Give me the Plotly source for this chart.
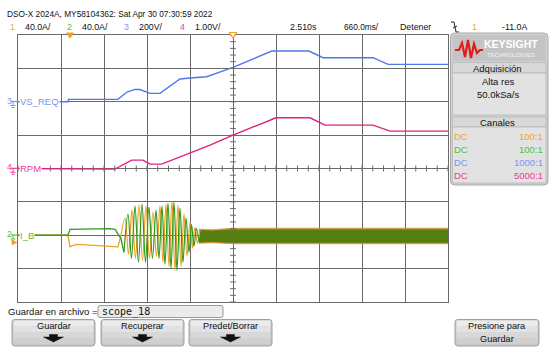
import plotly.graph_objects as go

# ---------------- data ----------------
# time axis: seconds relative to trigger, 660 ms/div, delay 2.510 s
T_DELAY = 2.510
T_DIV = 0.66

CH_SCALE = {1: 40.0, 2: 40.0, 3: 200.0, 4: 1.0}     # units / div
CH_OFFSET = {1: -2.0, 2: -2.0, 3: 2.0, 4: 0.0}      # ground position in div

# channel 3 (VS_REQ, volts)
ch3_t = [-0.79, -0.023, -0.015, 0.744, 0.883, 1.005, 1.082, 1.236, 1.389, 1.543,
         1.696, 1.850, 2.106, 2.510, 3.104, 3.676, 3.891, 4.659, 4.889, 5.81]
ch3_v = [0, 0, 14, 14, 58, 74, 73, 50, 50, 94,
         136, 142, 150, 206, 304, 304, 264, 264, 224, 224]

# channel 4 (RPM, volts)
ch4_t = [-0.79, 0.034, 0.038, 0.698, 0.955, 1.128, 1.236, 1.415, 2.157, 2.510,
         3.170, 3.692, 3.922, 4.659, 4.920, 5.81]
ch4_v = [0.0, 0.0, -0.02, -0.02, 0.25, 0.25, 0.13, 0.13, 0.70, 1.00,
         1.52, 1.52, 1.30, 1.30, 1.12, 1.12]

# channel 1 (orange, amps) before oscillation
ch1_pre_t = [-0.79, -0.023, 0.008, 0.054, 0.13, 0.744, 0.791]
ch1_pre_a = [0, 0, -14, -12, -11, -14, 0]
# channel 1 oscillation extremes
ch1_osc_t = [0.791, 0.852, 0.906, 0.959, 1.013, 1.067, 1.121, 1.174, 1.228, 1.282,
             1.336, 1.389, 1.435, 1.481, 1.527, 1.573, 1.619, 1.666, 1.712, 1.758,
             1.804, 1.850, 1.888, 1.926, 1.965, 2.003]
ch1_osc_a = [0, 20.4, -22.8, 30.0, -27.6, 36.0, -30.0, 34.8, -27.6, 27.6,
             -25.2, 34.8, -32.4, 37.2, -37.2, 40.8, -42.0, 36.0, -37.2, 25.2,
             -25.2, 15.6, -15.6, 9.6, -9.6, 6.0]

# channel 2 (green, amps) before oscillation
ch2_pre_t = [-0.79, -0.023, 0.008, 0.62, 0.70, 0.79, 0.837]
ch2_pre_a = [0, 0, 7, 8, 7, -4, -20.4]
ch2_osc_t = [0.837, 0.898, 0.952, 1.005, 1.059, 1.113, 1.167, 1.220, 1.274, 1.328,
             1.374, 1.420, 1.466, 1.512, 1.558, 1.604, 1.650, 1.696, 1.742, 1.788,
             1.834, 1.873, 1.911, 1.949, 1.988]
ch2_osc_a = [-20.4, 25.2, -27.6, 34.8, -32.4, 37.2, -32.4, 33.6, -27.6, 30.0,
             -27.6, 34.8, -34.8, 38.4, -39.6, 39.6, -42.0, 32.4, -32.4, 20.4,
             -20.4, 13.2, -13.2, 8.4, -8.4]

# dense high-frequency region: envelopes (amps)
band_t = [1.99, 2.20, 2.51, 3.00, 3.50, 4.00, 4.50, 5.00, 5.50, 5.81]
ch1_band_hi = [7.2, 6.6, 8.4, 8.4, 8.4, 8.4, 8.4, 8.4, 8.4, 8.4]
ch1_band_lo = [-9.6, -9.0, -10.2, -10.2, -10.2, -10.2, -10.2, -10.2, -10.2, -10.2]
ch2_band_hi = [5.4, 4.8, 6.0, 6.0, 6.0, 6.0, 6.0, 6.0, 6.0, 6.0]
ch2_band_lo = [-7.8, -7.2, -8.4, -8.4, -8.4, -8.4, -8.4, -8.4, -8.4, -8.4]

# header texts
header_title = "DSO-X 2024A, MY58104362: Sat Apr 30 07:30:59 2022"
ch_labels = ["1", "2", "3", "4"]
ch_scales_txt = ["40.0A/", "40.0A/", "200V/", "1.00V/"]
time_txt = ["2.510s", "660.0ms/", "Detener"]
trig_txt = ["1", "-11.0A"]
probe_rows = [("DC", "100:1"), ("DC", "100:1"), ("DC", "1000:1"), ("DC", "5000:1")]

# ---------------- style ----------------
W, H = 550, 354
PL, PR, PT, PB = 18, 448, 35, 302
C1, C2, C3, C4 = "#f0a028", "#2f9a1c", "#4f78ea", "#e2207c"
T1, T2, T3, T4 = "#f5a623", "#55c036", "#7a96f0", "#ee3c98"
GRID = "#6a6a6a"
FONT = "Liberation Sans, Arial, sans-serif"


def X(px):
    return px / W


def Y(py):
    return 1 - py / H


def div(vals, ch):
    return [v / CH_SCALE[ch] + CH_OFFSET[ch] for v in vals]


fig = go.Figure()

# channel 3 & 4
fig.add_trace(go.Scatter(x=ch3_t, y=div(ch3_v, 3), mode="lines",
                         line=dict(color=C3, width=1.4), hoverinfo="skip"))
fig.add_trace(go.Scatter(x=ch4_t, y=div(ch4_v, 4), mode="lines",
                         line=dict(color=C4, width=1.4), hoverinfo="skip"))

# dense bands
fig.add_trace(go.Scatter(x=band_t + band_t[::-1],
                         y=div(ch1_band_hi + ch1_band_lo[::-1], 1),
                         mode="lines", fill="toself", fillcolor="#a88420",
                         line=dict(color="#d89a30", width=0.8), hoverinfo="skip"))
fig.add_trace(go.Scatter(x=band_t + band_t[::-1],
                         y=div(ch2_band_hi + ch2_band_lo[::-1], 2),
                         mode="lines", fill="toself", fillcolor="#527e12",
                         line=dict(color="#4a8010", width=0.6), hoverinfo="skip"))

# channel 1 (orange)
fig.add_trace(go.Scatter(x=ch1_pre_t, y=div(ch1_pre_a, 1), mode="lines",
                         line=dict(color=C1, width=1.3), hoverinfo="skip"))
fig.add_trace(go.Scatter(x=ch1_osc_t, y=div(ch1_osc_a, 1), mode="lines",
                         line=dict(color=C1, width=1.2, shape="spline", smoothing=1.0),
                         hoverinfo="skip"))
# channel 2 (green)
fig.add_trace(go.Scatter(x=ch2_pre_t, y=div(ch2_pre_a, 2), mode="lines",
                         line=dict(color=C2, width=1.3), hoverinfo="skip"))
fig.add_trace(go.Scatter(x=ch2_osc_t, y=div(ch2_osc_a, 2), mode="lines",
                         line=dict(color=C2, width=1.2, shape="spline", smoothing=1.0),
                         hoverinfo="skip"))

shapes = []
ann = []

# minor ticks on the centre axes
t_center = T_DELAY
for k in range(-20, 21):
    xt = t_center + k * T_DIV / 4
    shapes.append(dict(type="line", xref="x", yref="y", x0=xt, x1=xt, y0=-0.09, y1=0.09,
                       line=dict(color=GRID, width=1)))
for k in range(-20, 21):
    yt = k * 0.2
    shapes.append(dict(type="line", xref="x", yref="y", x0=t_center - 0.045, x1=t_center + 0.045,
                       y0=yt, y1=yt, line=dict(color=GRID, width=1)))


def rrect(x0, y0, x1, y1, r):
    return (f"M{X(x0 + r)},{Y(y0)} L{X(x1 - r)},{Y(y0)} Q{X(x1)},{Y(y0)} {X(x1)},{Y(y0 + r)} "
            f"L{X(x1)},{Y(y1 - r)} Q{X(x1)},{Y(y1)} {X(x1 - r)},{Y(y1)} "
            f"L{X(x0 + r)},{Y(y1)} Q{X(x0)},{Y(y1)} {X(x0)},{Y(y1 - r)} "
            f"L{X(x0)},{Y(y0 + r)} Q{X(x0)},{Y(y0)} {X(x0 + r)},{Y(y0)} Z")


def prect(x0, y0, x1, y1, fill, line=None, lw=1):
    shapes.append(dict(type="rect", xref="paper", yref="paper", x0=X(x0), x1=X(x1),
                       y0=Y(y1), y1=Y(y0), fillcolor=fill,
                       line=dict(color=line or fill, width=lw if line else 0)))


def ppath(d, fill=None, line=None, lw=1):
    s = dict(type="path", xref="paper", yref="paper", path=d,
             line=dict(color=line or "rgba(0,0,0,0)", width=lw if line else 0))
    if fill:
        s["fillcolor"] = fill
    shapes.append(s)


def pline(x0, y0, x1, y1, color, lw=1):
    shapes.append(dict(type="line", xref="paper", yref="paper", x0=X(x0), x1=X(x1),
                       y0=Y(y0), y1=Y(y1), line=dict(color=color, width=lw)))


def txt(x, y, s, color="#111", size=10, anchor="left", bg=None, family=FONT):
    d = dict(x=X(x), y=Y(y), xref="paper", yref="paper", text=s, showarrow=False,
             xanchor=anchor, yanchor="middle", borderpad=0,
             font=dict(color=color, size=size, family=family))
    if bg:
        d["bgcolor"] = bg
    ann.append(d)


# ---- header ----
txt(6, 14, header_title, size=8.3)
hx = [(9, 24), (66, 81), (123, 138), (179, 194)]
hc = [T1, T2, T3, T4]
for (xa, xb), lab, sc, c in zip(hx, ch_labels, ch_scales_txt, hc):
    txt(xa, 27, lab, color=c, size=8.8)
    txt(xb, 27, sc, size=8.8)
txt(289, 27, time_txt[0], size=8.8)
txt(343, 27, time_txt[1], size=8.3)
txt(399, 27, time_txt[2], size=8.8)
# trigger edge icon
ppath(f"M{X(451)},{Y(22)} L{X(454)},{Y(22)} L{X(456)},{Y(32)} L{X(459)},{Y(32)}", line="#222", lw=1)
pline(453, 28, 457, 26, "#222", 1)
txt(471, 27, trig_txt[0], color=T1, size=8.8)
txt(501, 27, trig_txt[1], size=8.8)

# trigger / reference markers on top of the grid
ppath(f"M{X(66.5)},{Y(33)} L{X(73.5)},{Y(33)} L{X(70)},{Y(38)} Z", fill=C1, line=C1, lw=1)
ppath(f"M{X(229.5)},{Y(32.5)} L{X(236.5)},{Y(32.5)} L{X(233)},{Y(38)} Z", fill="white", line=C1, lw=1.2)

# ---- channel labels on the left ----
for gy, num, name, c in [(101.5, "3", "VS_REQ", T3), (168.3, "4", "RPM", T4), (235, "2", "I_B", T2)]:
    txt(6, gy - 1, num, color=c, size=8.5)
    pline(11, gy, 18, gy, c, 1.2)
    pline(13, gy, 13, gy + 4, c, 1)
    pline(10.5, gy + 4, 15.5, gy + 4, c, 1)
    pline(11.5, gy + 6, 14.5, gy + 6, c, 1)
    txt(19, gy, name, color=c, size=9.5, bg="white")
# orange ground marker peeking below
ppath(f"M{X(12)},{Y(240)} L{X(17)},{Y(242.5)} L{X(12)},{Y(245)} Z", fill=C1, line=C1, lw=0.5)

# ---- right panel ----
ppath(rrect(450.5, 33, 548, 185, 4), fill="#d2d2d2", line="#a8a8a8", lw=1)
prect(452.5, 35, 546, 61, "#c4c4c4")
ppath(f"M{X(455)},{Y(50)} L{X(459)},{Y(50)} L{X(462)},{Y(43)} L{X(465)},{Y(57)} L{X(468)},{Y(40)} "
      f"L{X(471)},{Y(58)} L{X(474)},{Y(44)} L{X(477)},{Y(53)} L{X(480)},{Y(50)} L{X(483)},{Y(50)}",
      line="#e01c1c", lw=2.2)
txt(511, 44, "<b>KEYSIGHT</b>", color="white", size=10.5, anchor="center")
txt(511, 54.5, "TECHNOLOGIES", color="#f4f4f4", size=6, anchor="center")
prect(452.5, 62.5, 546, 73, "#d8d8d8", line="#b8b8b8", lw=0.8)
txt(498, 68, "Adquisición", size=9.5, anchor="center")
prect(452.5, 73, 546, 115, "#e2e2e2", line="#b8b8b8", lw=0.8)
txt(498, 82, "Alta res", size=9.5, anchor="center")
txt(498, 94, "50.0kSa/s", size=9.5, anchor="center")
prect(452.5, 117, 546, 127, "#d8d8d8", line="#b8b8b8", lw=0.8)
txt(498, 122, "Canales", size=9.5, anchor="center")
prect(452.5, 127, 546, 183, "#e2e2e2", line="#b8b8b8", lw=0.8)
for i, ((cp, ratio), c) in enumerate(zip(probe_rows, [T1, T2, T3, T4])):
    yy = 136.5 + i * 13
    txt(453, yy, cp, color=c, size=9.5)
    txt(544, yy, ratio, color=c, size=9.5, anchor="right")

# ---- bottom bar ----
txt(7, 311, "Guardar en archivo =", size=9.5)
ppath(rrect(98, 305.5, 223, 317.5, 2), fill="#ececec", line="#9a9a9a", lw=1)
txt(101, 311.5, "scope_18", size=10, family="DejaVu Sans Mono, Liberation Mono, monospace")


def button(x0, x1, lines, arrow):
    y0, y1 = 319.5, 346
    ppath(rrect(x0, y0, x1, y1, 3), fill="#c8c8c8", line="#a0a0a0", lw=1)
    prect(x0 + 1.5, y0 + 1, x1 - 1.5, y0 + 7, "#ececec")
    prect(x0 + 1.5, y0 + 7, x1 - 1.5, y0 + 13, "#e2e2e2")
    prect(x0 + 1.5, y0 + 13, x1 - 1.5, y0 + 19, "#d8d8d8")
    prect(x0 + 1.5, y0 + 19, x1 - 1.5, y1 - 2, "#cfcfcf")
    cx = (x0 + x1) / 2
    if arrow:
        txt(cx, 326, lines[0], size=9.2, anchor="center")
        ppath(f"M{X(cx - 4)},{Y(334.5)} L{X(cx + 4)},{Y(334.5)} L{X(cx + 4)},{Y(337)} L{X(cx + 10)},{Y(337)} "
              f"L{X(cx)},{Y(342)} L{X(cx - 10)},{Y(337)} L{X(cx - 4)},{Y(337)} Z", fill="#111", line="#111", lw=0.5)
    else:
        txt(cx, 326, lines[0], size=9.2, anchor="center")
        txt(cx, 338.5, lines[1], size=9.2, anchor="center")


button(12, 95, ["Guardar"], True)
button(101, 184, ["Recuperar"], True)
button(189, 272, ["Predet/Borrar"], True)
button(455, 539, ["Presione para", "Guardar"], False)

fig.update_layout(
    width=W, height=H,
    margin=dict(l=0, r=0, t=0, b=0),
    paper_bgcolor="white", plot_bgcolor="white",
    showlegend=False,
    xaxis=dict(domain=[X(PL), X(PR)], range=[T_DELAY - 5 * T_DIV, T_DELAY + 5 * T_DIV],
               tick0=T_DELAY, dtick=T_DIV, showgrid=True, gridcolor=GRID, gridwidth=1,
               showticklabels=False, ticks="", zeroline=False,
               showline=True, mirror=True, linecolor=GRID, linewidth=1, fixedrange=True),
    yaxis=dict(domain=[Y(PB), Y(PT)], range=[-4, 4], tick0=0, dtick=1,
               showgrid=True, gridcolor=GRID, gridwidth=1, showticklabels=False, ticks="",
               zeroline=False, showline=True, mirror=True, linecolor=GRID, linewidth=1,
               fixedrange=True),
    shapes=shapes,
    annotations=ann,
)

fig.write_html("out.html", config={"displayModeBar": False},
               post_script="document.body.style.margin='0';document.body.style.overflow='hidden';")
